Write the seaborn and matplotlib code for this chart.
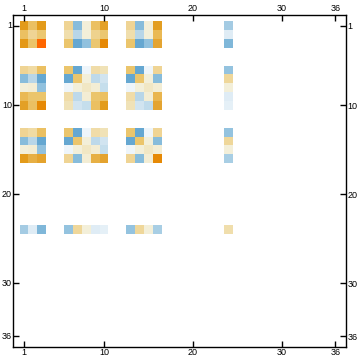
import numpy as np
import seaborn as sns
import matplotlib.pyplot as plt
from matplotlib.colors import LinearSegmentedColormap

# matrix size and the rows/columns that hold non-zero entries (1-based)
n = 36
nz_idx = [1, 2, 3, 6, 7, 8, 9, 10, 13, 14, 15, 16, 24]

# values per row group, columns follow nz_idx
rows_1_3 = [
    [0.80, 0.55, 0.80, 0.40, -0.55, 0.10, 0.55, 0.75, 0.40, -0.55, 0.10, 0.78, -0.40],
    [0.55, 0.40, 0.50, 0.30, -0.30, 0.10, 0.42, 0.50, 0.30, -0.30, 0.10, 0.60, -0.12],
    [0.82, 0.53, 1.00, 0.52, -0.85, -0.50, 0.50, 0.88, 0.52, -0.85, -0.50, 0.72, -0.62],
]
rows_6_10 = [
    [0.40, 0.33, 0.55, 0.52, -0.85, -0.05, 0.32, 0.25, 0.52, -0.85, -0.05, 0.40, -0.48],
    [-0.55, -0.30, -0.85, -0.85, 0.52, 0.10, -0.28, -0.18, -0.85, 0.52, 0.10, -0.55, 0.38],
    [0.10, 0.12, -0.50, -0.05, 0.10, 0.20, 0.12, -0.24, -0.05, 0.10, 0.20, 0.12, 0.10],
    [0.60, 0.52, 0.52, 0.32, -0.28, 0.12, 0.52, 0.55, 0.32, -0.30, 0.12, 0.62, -0.12],
    [0.76, 0.55, 0.88, 0.25, -0.18, -0.24, 0.55, 0.80, 0.25, -0.18, -0.26, 0.72, -0.09],
]
rows_13_16 = [
    [0.40, 0.33, 0.55, 0.52, -0.85, -0.05, 0.32, 0.25, 0.52, -0.85, -0.05, 0.40, -0.48],
    [-0.55, -0.30, -0.85, -0.85, 0.52, 0.10, -0.28, -0.18, -0.85, 0.52, 0.10, -0.55, 0.38],
    [0.10, 0.12, -0.50, -0.05, 0.10, 0.20, 0.12, -0.24, -0.05, 0.10, 0.20, 0.12, 0.10],
    [0.80, 0.66, 0.74, 0.40, -0.55, 0.12, 0.65, 0.73, 0.40, -0.55, 0.12, 0.88, -0.38],
]
row_24 = [
    [-0.40, -0.12, -0.62, -0.48, 0.38, 0.10, -0.12, -0.09, -0.48, 0.38, 0.10, -0.38, 0.30],
]

tick_vals = [1, 10, 20, 30, 36]

block = np.array(rows_1_3 + rows_6_10 + rows_13_16 + row_24)
mat = np.zeros((n, n))
ix = np.array(nz_idx) - 1
mat[np.ix_(ix, ix)] = block

cmap = LinearSegmentedColormap.from_list("mma", [
    (0.000, "#4f97c9"),
    (0.075, "#65a7d1"),
    (0.225, "#87bcdb"),
    (0.350, "#b8d6e8"),
    (0.475, "#eef5fa"),
    (0.550, "#f3efd9"),
    (0.600, "#f1e7c4"),
    (0.650, "#f0deac"),
    (0.700, "#efd595"),
    (0.760, "#ebc56c"),
    (0.800, "#eab954"),
    (0.860, "#e4a533"),
    (0.900, "#e39c1b"),
    (0.940, "#e68a05"),
    (1.000, "#ff6600"),
])

plt.rcParams['font.family'] = ['Liberation Sans', 'DejaVu Sans']

fig = plt.figure(figsize=(3.6, 3.63), dpi=100)
ax = fig.add_axes([0.037, 0.044, 0.924, 0.915])
sns.heatmap(mat, mask=(mat == 0), cmap=cmap, vmin=-1, vmax=1, cbar=False,
            linewidths=0, ax=ax)

pad = 0.7
ax.set_xlim(-pad, n + pad)
ax.set_ylim(n + pad, -pad)

pos = [t - 0.5 for t in tick_vals]
ax.set_xticks(pos)
ax.set_xticklabels([str(t) for t in tick_vals], rotation=0)
ax.set_yticks(pos)
ax.set_yticklabels([str(t) for t in tick_vals], rotation=0)
ax.tick_params(axis="both", which="both", direction="in", length=4, width=1,
               labelsize=6.5, pad=1, top=True, labeltop=True,
               right=True, labelright=True, bottom=True, labelbottom=True,
               left=True, labelleft=True)

for s in ax.spines.values():
    s.set_visible(True)
    s.set_linewidth(1.0)
    s.set_color("black")

fig.savefig("out.png", dpi=100)
